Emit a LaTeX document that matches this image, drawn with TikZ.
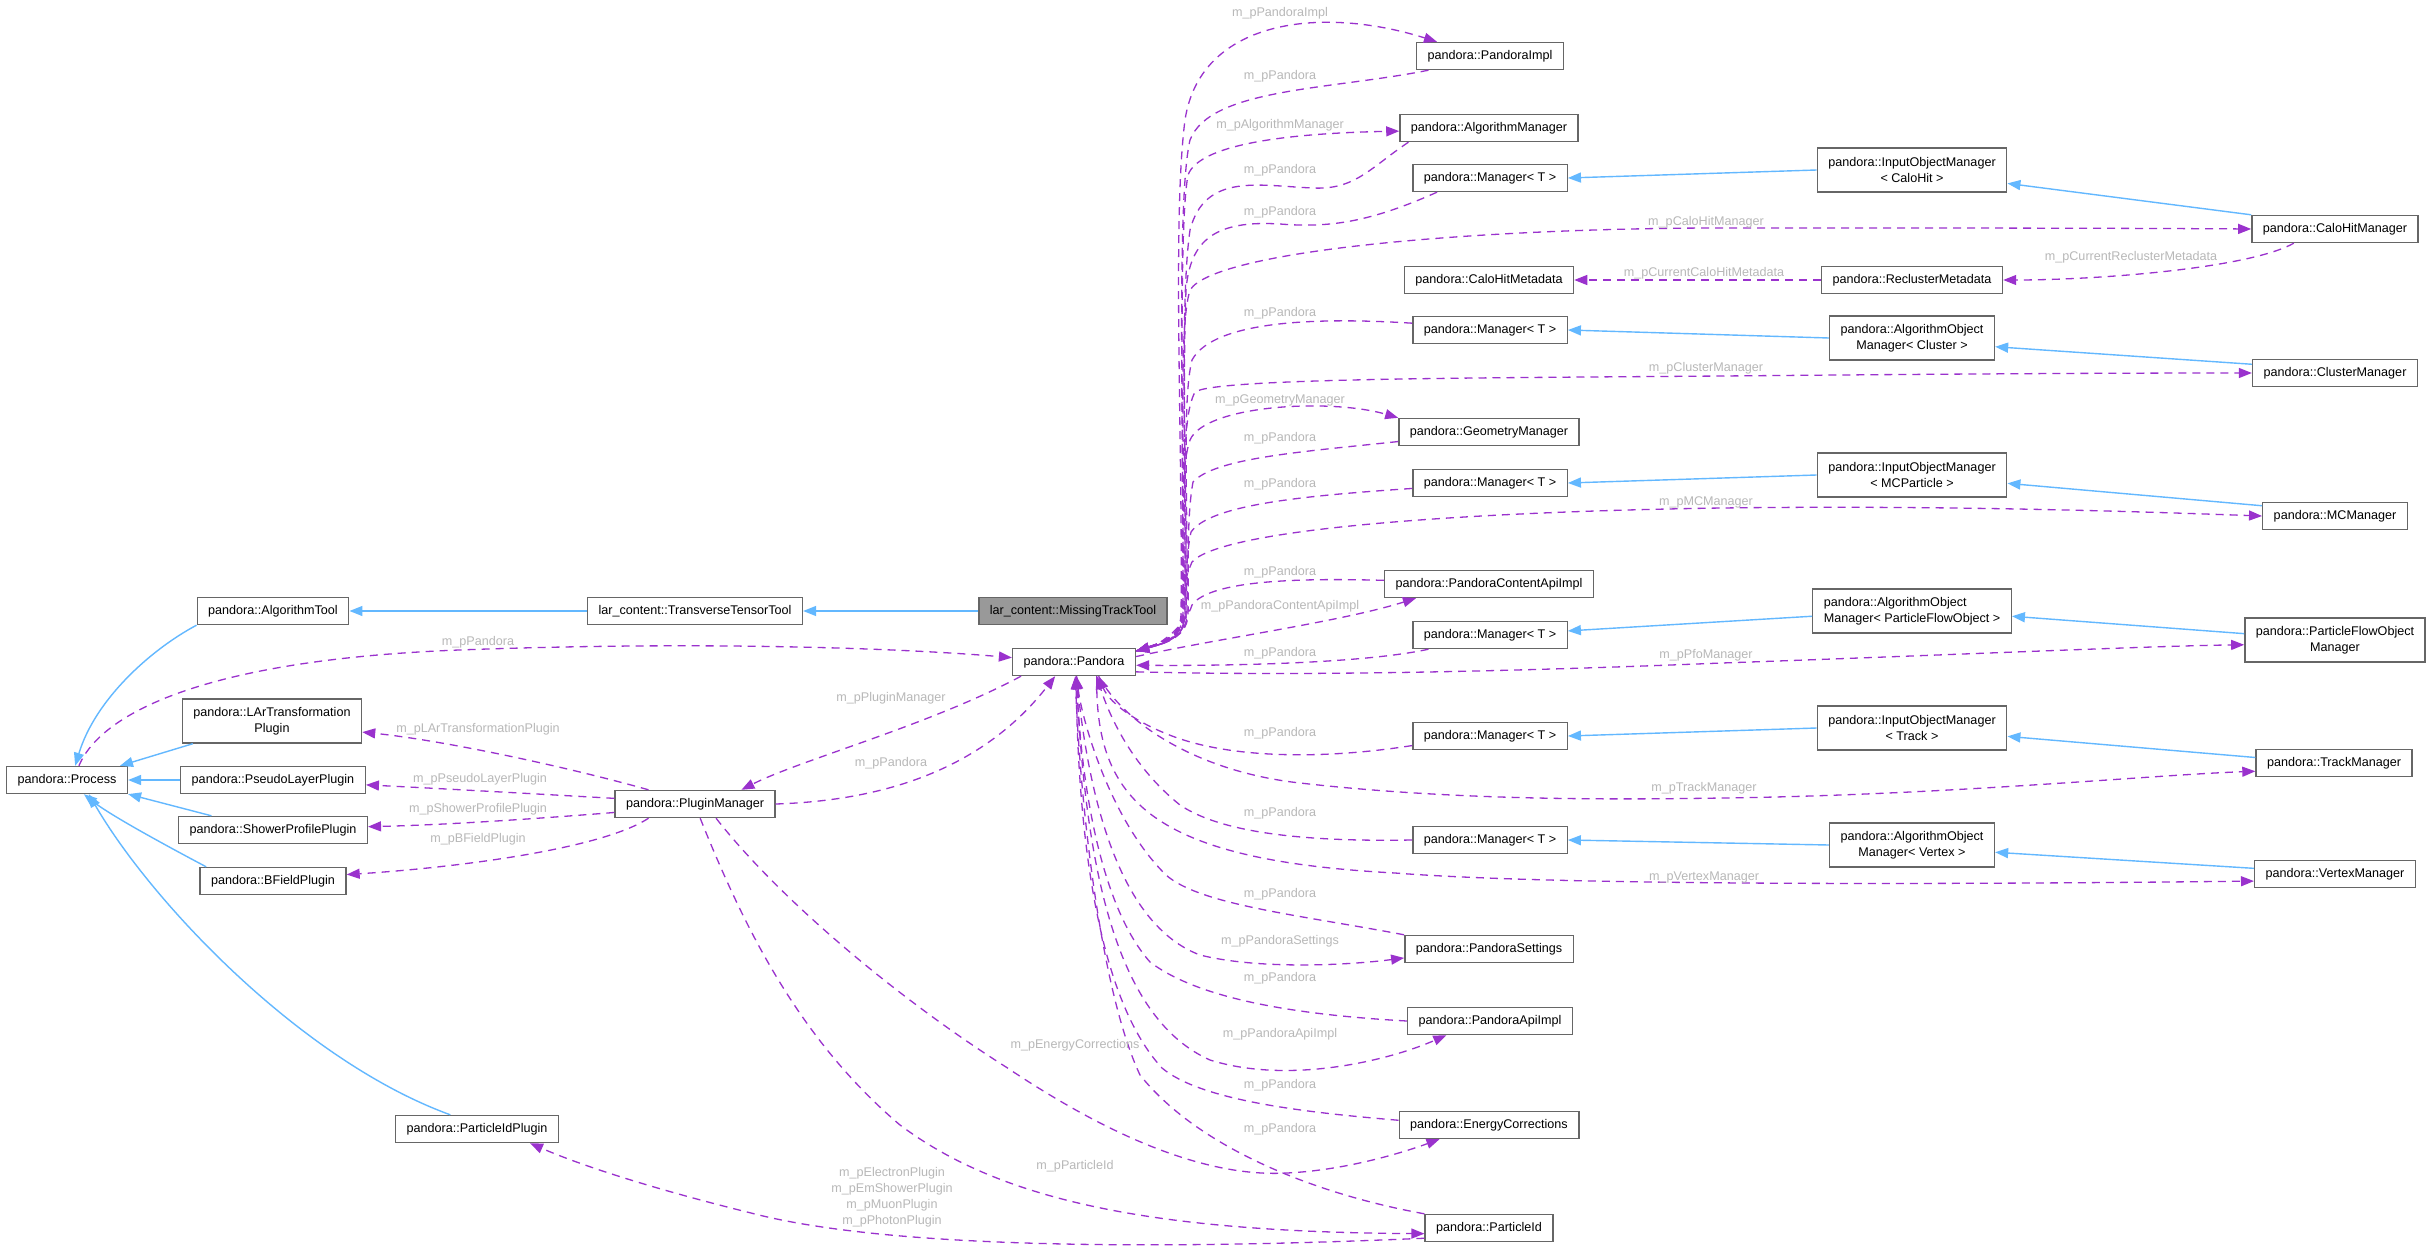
\documentclass[tikz,border=0pt]{standalone}
\usepackage{fontspec}
\setmainfont{Liberation Sans}
\usepackage{xcolor}
\usepackage{tikz}
\usetikzlibrary{arrows.meta}

\definecolor{memberedge}{HTML}{9A32CD}
\definecolor{inheritedge}{HTML}{63B8FF}
\definecolor{boxline}{HTML}{666666}
\definecolor{rootfill}{HTML}{999999}
\definecolor{labelgrey}{HTML}{B8B8B8}

\begin{document}
\begin{tikzpicture}[
  x=1pt, y=-1pt,
  >={Triangle[length=13pt,width=10pt]},
  cls/.style={draw=boxline, fill=white, line width=1.4pt, minimum height=27pt,
              inner xsep=11pt, inner ysep=0pt, font=\fontsize{12.6}{15.5}\selectfont,
              text height=9.1pt, text depth=2.7pt, anchor=center},
  clstwo/.style={draw=boxline, fill=white, line width=1.4pt, minimum height=44pt,
              inner xsep=11pt, inner ysep=0pt, font=\fontsize{12.6}{15.5}\selectfont,
              align=center, anchor=center},
  rootcls/.style={cls, fill=rootfill},
  member/.style={memberedge, line width=1.3pt, dash pattern=on 8pt off 6pt},
  inherit/.style={inheritedge, line width=1.4pt},
  mlabel/.style={text=labelgrey, font=\fontsize{12.6}{16}\selectfont, inner sep=0pt, align=center},
]

\path[use as bounding box, fill=white] (0,0) rectangle (2432,1249);

% === Classes, left part ===
\node[rootcls] (root) at (1073,611) {lar\_content::MissingTrackTool};
\node[cls] (pandora) at (1074,662) {pandora::Pandora};
\node[cls] (ttt) at (695,611) {lar\_content::TransverseTensorTool};
\node[cls] (algtool) at (273,611) {pandora::AlgorithmTool};
\node[cls] (process) at (67,780) {pandora::Process};
\node[clstwo] (lartp) at (272,721) {pandora::LArTransformation\\Plugin};
\node[cls] (pslp) at (273,780) {pandora::PseudoLayerPlugin};
\node[cls] (shpp) at (273,830) {pandora::ShowerProfilePlugin};
\node[cls] (bfp) at (273,881) {pandora::BFieldPlugin};
\node[cls] (pidp) at (477,1129) {pandora::ParticleIdPlugin};
\node[cls] (plugmgr) at (695,804) {pandora::PluginManager};

% === Classes, middle column ===
\node[cls] (pimpl) at (1490,56) {pandora::PandoraImpl};
\node[cls] (algmgr) at (1489,128) {pandora::AlgorithmManager};
\node[cls] (mgra) at (1490,178) {pandora::Manager< T >};
\node[cls] (calomd) at (1489,280) {pandora::CaloHitMetadata};
\node[cls] (mgrb) at (1490,330) {pandora::Manager< T >};
\node[cls] (geomgr) at (1489,432) {pandora::GeometryManager};
\node[cls] (mgrc) at (1490,483) {pandora::Manager< T >};
\node[cls] (pcaimpl) at (1489,584) {pandora::PandoraContentApiImpl};
\node[cls] (mgrd) at (1490,635) {pandora::Manager< T >};
\node[cls] (mgre) at (1490,736) {pandora::Manager< T >};
\node[cls] (mgrf) at (1490,840) {pandora::Manager< T >};
\node[cls] (settings) at (1489,949) {pandora::PandoraSettings};
\node[cls] (apiimpl) at (1490,1021) {pandora::PandoraApiImpl};
\node[cls] (ecorr) at (1489,1125) {pandora::EnergyCorrections};
\node[cls] (pid) at (1489,1228) {pandora::ParticleId};

% === Classes, right columns ===
\node[clstwo] (iomcalo) at (1912,170) {pandora::InputObjectManager\\< CaloHit >};
\node[cls] (reclmd) at (1912,280) {pandora::ReclusterMetadata};
\node[clstwo] (aomclus) at (1912,338) {pandora::AlgorithmObject\\Manager< Cluster >};
\node[clstwo] (iommc) at (1912,475) {pandora::InputObjectManager\\< MCParticle >};
\node[clstwo, align=left] (aompfo) at (1912,611) {pandora::AlgorithmObject\\Manager< ParticleFlowObject >};
\node[clstwo] (iomtrack) at (1912,728) {pandora::InputObjectManager\\< Track >};
\node[clstwo] (aomvtx) at (1912,845) {pandora::AlgorithmObject\\Manager< Vertex >};
\node[cls] (calomgr) at (2335,229) {pandora::CaloHitManager};
\node[cls] (clusmgr) at (2335,373) {pandora::ClusterManager};
\node[cls] (mcmgr) at (2335,516) {pandora::MCManager};
\node[clstwo] (pfomgr) at (2335,640) {pandora::ParticleFlowObject\\Manager};
\node[cls] (trackmgr) at (2334,763) {pandora::TrackManager};
\node[cls] (vtxmgr) at (2335,874) {pandora::VertexManager};

% === Inheritance ===
\draw[inherit,->] (root.west) -- (ttt.east);
\draw[inherit,->] (ttt.west) -- (algtool.east);
\draw[inherit,->] (algtool.south west) .. controls (150,650) and (95,700) .. (process.60);
\draw[inherit,->] (lartp.-164) -- (process.15);
\draw[inherit,->] (pslp.west) -- (process.east);
\draw[inherit,->] (shpp.167) -- (process.-13);
\draw[inherit,->] (bfp.168) .. controls (165,845) and (110,815) .. (process.-40);
\draw[inherit,->] (pidp.152) .. controls (300,1060) and (150,900) .. (process.-33);
\draw[inherit,->] (iomcalo.west) -- (mgra.east);
\draw[inherit,->] (calomgr.north west) -- (iomcalo.-8);
\draw[inherit,->] (aomclus.west) -- (mgrb.east);
\draw[inherit,->] (clusmgr.174) -- (aomclus.-6);
\draw[inherit,->] (iommc.west) -- (mgrc.east);
\draw[inherit,->] (mcmgr.172) -- (iommc.-5);
\draw[inherit,->] (aompfo.183) -- (mgrd.3);
\draw[inherit,->] (pfomgr.176) -- (aompfo.-3);
\draw[inherit,->] (iomtrack.west) -- (mgre.east);
\draw[inherit,->] (trackmgr.176) -- (iomtrack.-5);
\draw[inherit,->] (aomvtx.west) -- (mgrf.east);
\draw[inherit,->] (vtxmgr.176) -- (aomvtx.-5);

% === Members, upper bundle ===
\draw[member,->] (pandora.10) .. controls (1156,644) and (1180,640) .. (1181,615)
  .. controls (1183,450) and (1172,220) .. (1185,120)
  .. controls (1200,20) and (1320,5) .. (pimpl.165);
\draw[member,->] (pimpl.-167) .. controls (1330,90) and (1210,88) .. (1190,140)
  .. controls (1176,200) and (1184,450) .. (1183,615)
  .. controls (1182,640) and (1158,645) .. (pandora.10);
\draw[member,->] (pandora.10) .. controls (1156,644) and (1181,640) .. (1182,615)
  .. controls (1184,450) and (1178,230) .. (1188,175)
  .. controls (1200,142) and (1300,133) .. (algmgr.182);
\draw[member,->] (algmgr.-170) .. controls (1370,168) and (1355,190) .. (1313,188)
  .. controls (1260,186) and (1205,172) .. (1190,230)
  .. controls (1180,300) and (1186,450) .. (1185,615)
  .. controls (1184,640) and (1158,645) .. (pandora.10);
\draw[member,->] (mgra.-165) .. controls (1370,222) and (1330,228) .. (1280,224)
  .. controls (1215,220) and (1190,240) .. (1186,290)
  .. controls (1182,400) and (1187,500) .. (1186,615)
  .. controls (1185,640) and (1158,645) .. (pandora.10);
\draw[member,->] (pandora.10) .. controls (1156,644) and (1183,640) .. (1184,615)
  .. controls (1185,450) and (1178,330) .. (1190,290)
  .. controls (1215,250) and (1480,228) .. (1722,228)
  .. controls (1950,228) and (2100,228) .. (calomgr.west);
\draw[member,->] (mgrb.175) .. controls (1330,318) and (1215,318) .. (1192,360)
  .. controls (1182,400) and (1188,500) .. (1187,615)
  .. controls (1186,640) and (1158,645) .. (pandora.10);
\draw[member,->] (pandora.10) .. controls (1156,644) and (1184,640) .. (1185,615)
  .. controls (1186,500) and (1180,420) .. (1195,392)
  .. controls (1215,378) and (1480,378) .. (1722,376)
  .. controls (1950,374) and (2100,373) .. (clusmgr.west);
\draw[member,->] (pandora.10) .. controls (1156,644) and (1182,640) .. (1183,615)
  .. controls (1184,520) and (1180,470) .. (1190,440)
  .. controls (1205,405) and (1330,398) .. (geomgr.north west);
\draw[member,->] (geomgr.186) .. controls (1300,452) and (1215,458) .. (1193,482)
  .. controls (1186,520) and (1189,580) .. (1188,615)
  .. controls (1187,640) and (1158,645) .. (pandora.10);
\draw[member,->] (mgrc.184) .. controls (1300,496) and (1210,505) .. (1191,532)
  .. controls (1185,560) and (1187,590) .. (1186,615)
  .. controls (1185,640) and (1158,645) .. (pandora.10);
\draw[member,->] (pandora.10) .. controls (1156,644) and (1183,640) .. (1184,612)
  .. controls (1185,590) and (1182,585) .. (1192,562)
  .. controls (1220,530) and (1450,512) .. (1722,508)
  .. controls (1950,505) and (2150,512) .. (mcmgr.west);
\draw[member,->] (pcaimpl.178) .. controls (1300,578) and (1210,580) .. (1192,605)
  .. controls (1186,625) and (1160,645) .. (pandora.10);
\draw[member,->] (pandora.5) .. controls (1220,638) and (1340,622) .. (pcaimpl.-169);
\draw[member,->] (mgrd.-167) .. controls (1370,662) and (1250,666) .. (pandora.-3);
\draw[member,->] (pandora.-9) .. controls (1300,676) and (1500,672) .. (1722,663)
  .. controls (1950,655) and (2150,646) .. (pfomgr.183);
\draw[member,->] (calomgr.-161) .. controls (2250,268) and (2100,280) .. (reclmd.east);
\draw[member,->] (reclmd.west) -- (calomd.east);

% === Members, lower bundle ===
\draw[member,->] (mgre.-173) .. controls (1320,760) and (1230,758) .. (1172,736)
  .. controls (1130,720) and (1108,700) .. (pandora.-30);
\draw[member,->] (pandora.-30) .. controls (1125,725) and (1200,772) .. (1300,783)
  .. controls (1450,800) and (1600,800) .. (1722,798)
  .. controls (1950,795) and (2150,775) .. (trackmgr.186);
\draw[member,->] (mgrf.west) .. controls (1300,842) and (1220,832) .. (1180,805)
  .. controls (1130,765) and (1108,712) .. (pandora.-32);
\draw[member,->] (pandora.-32) .. controls (1095,800) and (1150,860) .. (1395,873)
  .. controls (1550,885) and (1900,885) .. (vtxmgr.185);
\draw[member,->] (settings.north west) .. controls (1300,915) and (1200,905) .. (1166,875)
  .. controls (1110,820) and (1082,720) .. (pandora.-80);
\draw[member,->] (pandora.-80) .. controls (1088,800) and (1120,925) .. (1200,955)
  .. controls (1260,970) and (1350,965) .. (settings.186);
\draw[member,->] (apiimpl.west) .. controls (1300,1015) and (1200,1000) .. (1150,962)
  .. controls (1095,900) and (1080,760) .. (pandora.-80);
\draw[member,->] (pandora.-80) .. controls (1085,880) and (1120,1020) .. (1210,1060)
  .. controls (1290,1085) and (1390,1060) .. (apiimpl.-162);
\draw[member,->] (ecorr.177) .. controls (1300,1112) and (1200,1100) .. (1162,1068)
  .. controls (1090,990) and (1078,800) .. (pandora.-82);
\draw[member,->] (pid.north west) .. controls (1320,1195) and (1200,1150) .. (1140,1075)
  .. controls (1100,990) and (1080,800) .. (pandora.-85);

% === Members, plugin manager ===
\draw[member,->] (process.50) .. controls (100,715) and (200,660) .. (459,650)
  .. controls (700,641) and (900,648) .. (pandora.176);
\draw[member,->] (pandora.-165) .. controls (930,725) and (800,760) .. (plugmgr.17);
\draw[member,->] (plugmgr.east) .. controls (900,800) and (990,760) .. (pandora.-143);
\draw[member,->] (plugmgr.163) .. controls (560,765) and (440,740) .. (lartp.-7);
\draw[member,->] (plugmgr.176) .. controls (520,793) and (430,788) .. (pslp.-3);
\draw[member,->] (plugmgr.-174) .. controls (520,820) and (440,825) .. (shpp.2);
\draw[member,->] (plugmgr.-163) .. controls (600,850) and (450,868) .. (bfp.5);
\draw[member,->] (plugmgr.-34) .. controls (780,900) and (900,1000) .. (1006,1067)
  .. controls (1100,1130) and (1200,1178) .. (1287,1173)
  .. controls (1350,1170) and (1410,1150) .. (ecorr.-164);
\draw[member,->] (plugmgr.-70) .. controls (745,930) and (800,1040) .. (900,1125)
  .. controls (1000,1200) and (1150,1232) .. (pid.-175);
\draw[member,->] (pid.-171) .. controls (1200,1248) and (900,1252) .. (751,1213)
  .. controls (650,1188) and (580,1165) .. (pidp.-15);

% === Edge labels ===
\foreach \y [count=\i] in {76,170,212,313,438,484,572,653,733,813,894,978,1085,1129} {
  \node[mlabel] (lp\i) at (1280,\y) {m\_pPandora};
}
\node[mlabel] (lpimpl) at (1280,13) {m\_pPandoraImpl};
\node[mlabel] (lalgmgr) at (1280,125) {m\_pAlgorithmManager};
\node[mlabel] (lgeomgr) at (1280,400) {m\_pGeometryManager};
\node[mlabel] (lpcaimpl) at (1280,606) {m\_pPandoraContentApiImpl};
\node[mlabel] (lsettings) at (1280,941) {m\_pPandoraSettings};
\node[mlabel] (lapiimpl) at (1280,1034) {m\_pPandoraApiImpl};
\node[mlabel] (lcalomgr) at (1706,222) {m\_pCaloHitManager};
\node[mlabel] (lcalomd) at (1704,273) {m\_pCurrentCaloHitMetadata};
\node[mlabel] (lreclmd) at (2131,257) {m\_pCurrentReclusterMetadata};
\node[mlabel] (lclusmgr) at (1706,368) {m\_pClusterManager};
\node[mlabel] (lmcmgr) at (1706,502) {m\_pMCManager};
\node[mlabel] (lpfomgr) at (1706,655) {m\_pPfoManager};
\node[mlabel] (ltrackmgr) at (1704,788) {m\_pTrackManager};
\node[mlabel] (lvtxmgr) at (1704,877) {m\_pVertexManager};
\node[mlabel] (lprocess) at (478,642) {m\_pPandora};
\node[mlabel] (lplugmgr) at (891,698) {m\_pPluginManager};
\node[mlabel] (lplugback) at (891,763) {m\_pPandora};
\node[mlabel] (llartp) at (478,729) {m\_pLArTransformationPlugin};
\node[mlabel] (lpslp) at (480,779) {m\_pPseudoLayerPlugin};
\node[mlabel] (lshpp) at (478,809) {m\_pShowerProfilePlugin};
\node[mlabel] (lbfp) at (478,839) {m\_pBFieldPlugin};
\node[mlabel] (lecorr) at (1075,1045) {m\_pEnergyCorrections};
\node[mlabel] (lpid) at (1075,1166) {m\_pParticleId};
\node[mlabel] (lpidp) at (892,1197)
  {m\_pElectronPlugin\\m\_pEmShowerPlugin\\m\_pMuonPlugin\\m\_pPhotonPlugin};

\end{tikzpicture}
\end{document}
